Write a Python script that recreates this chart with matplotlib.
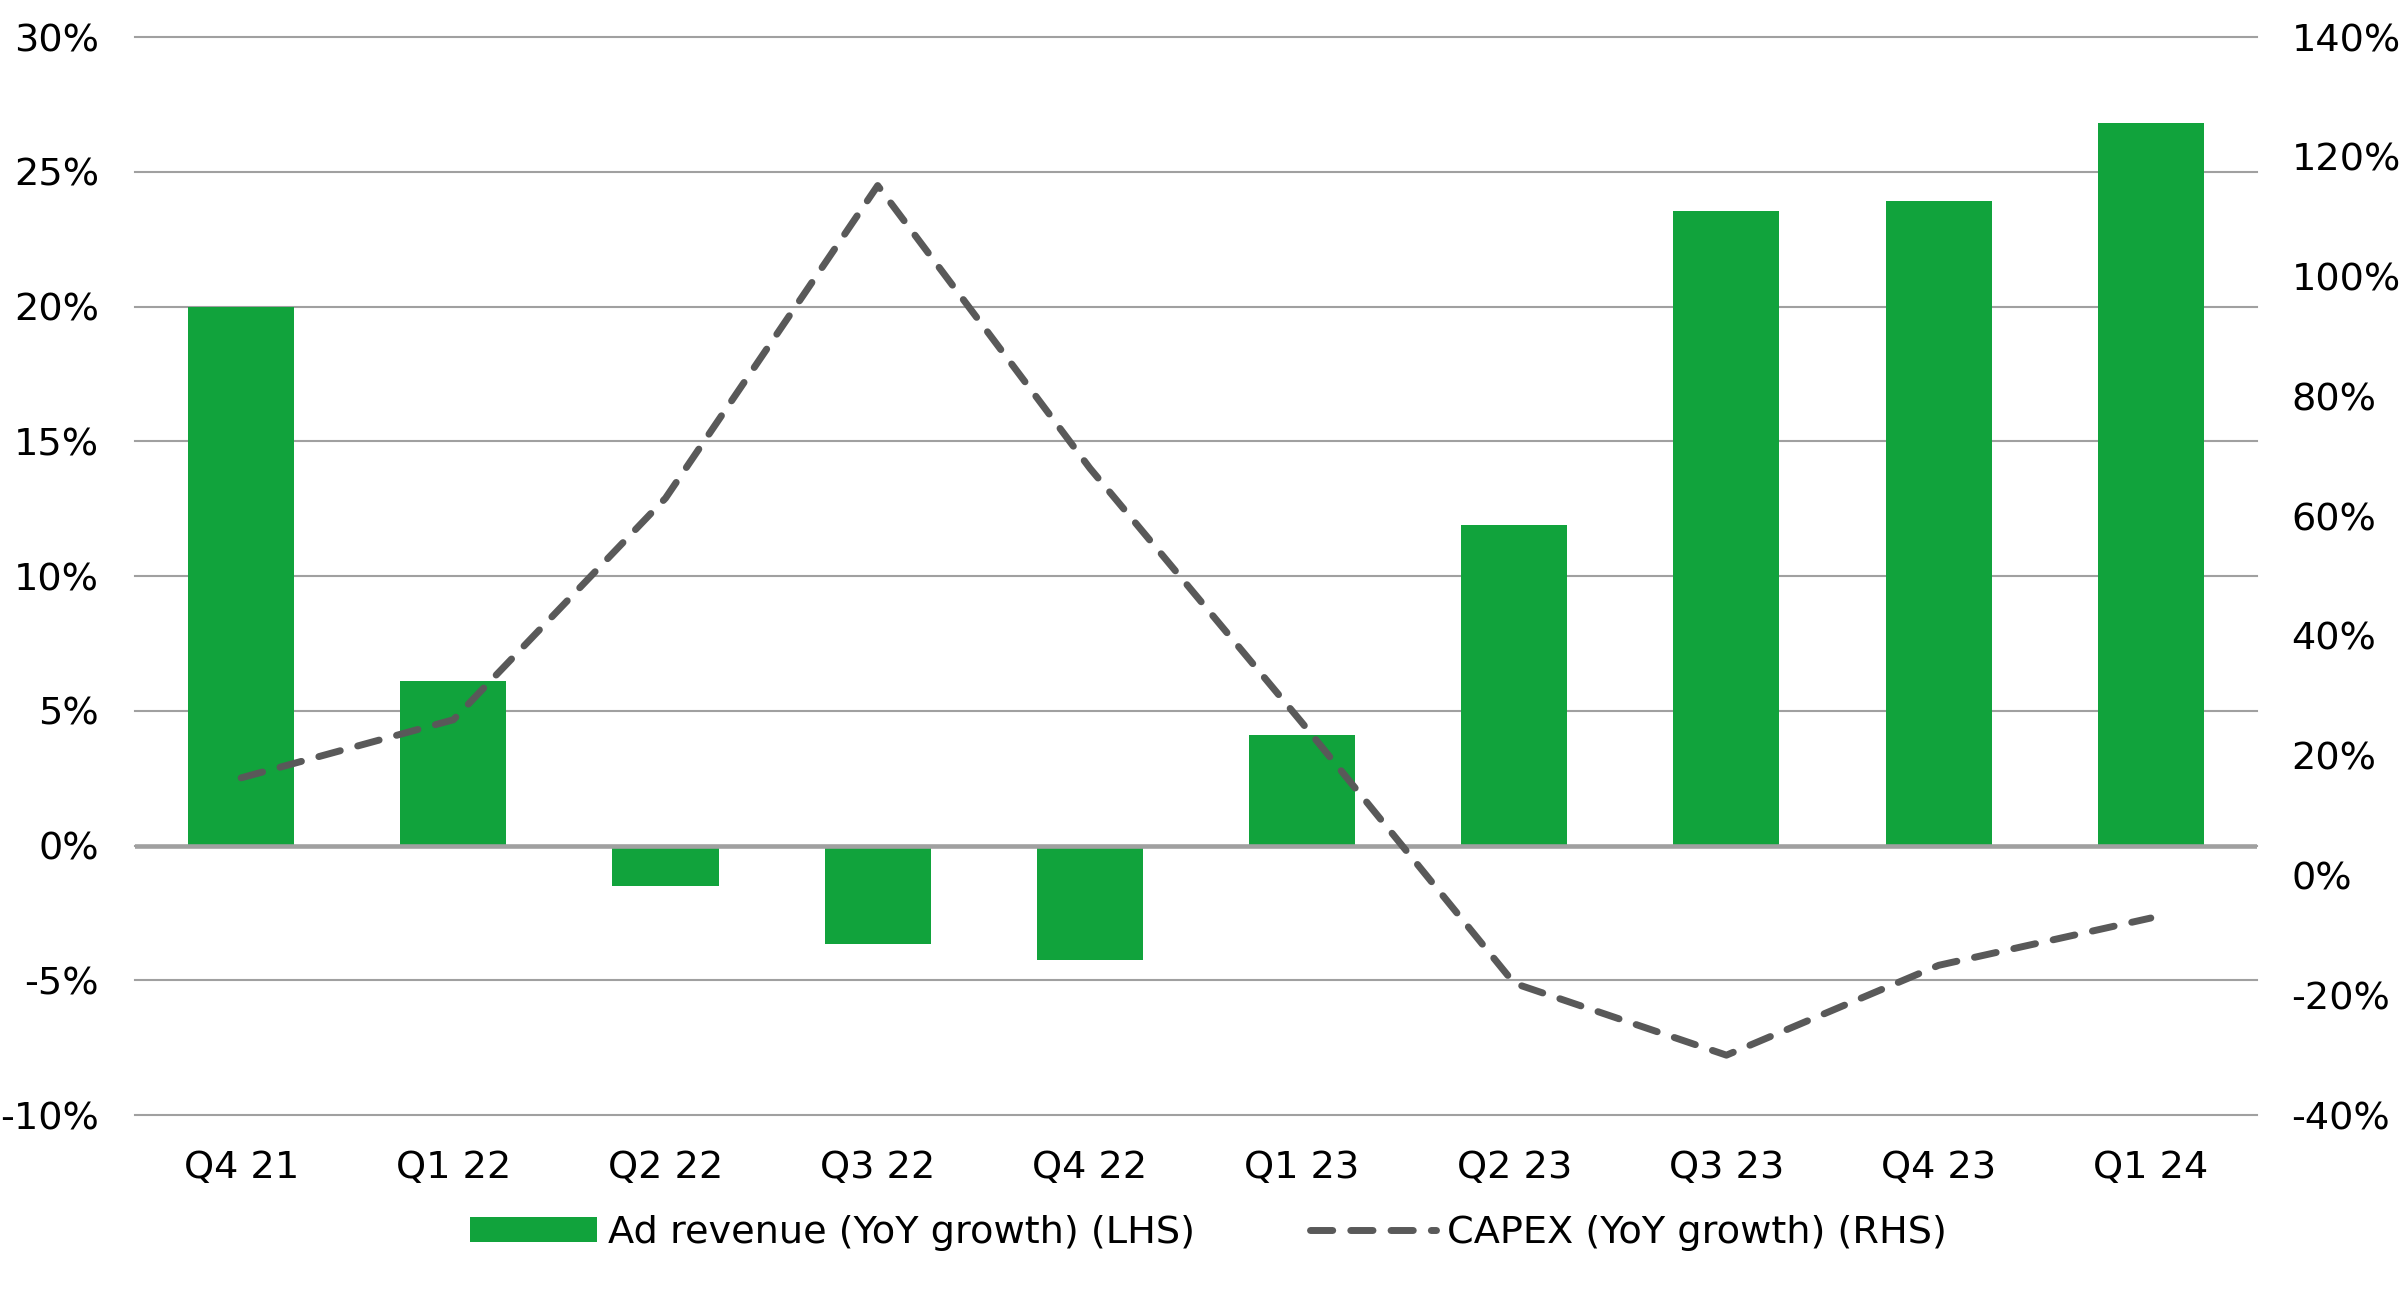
import matplotlib.pyplot as plt
from matplotlib.ticker import FuncFormatter, MultipleLocator

quarters = ["Q4 21", "Q1 22", "Q2 22", "Q3 22", "Q4 22",
            "Q1 23", "Q2 23", "Q3 23", "Q4 23", "Q1 24"]
ad_revenue_growth = [20.0, 6.1, -1.5, -3.65, -4.25, 4.1, 11.9, 23.55, 23.9, 26.8]
capex_growth = [16.3, 26.0, 63.0, 115.2, 68.0, 25.5, -18.0, -30.0, -15.0, -7.1]

GREEN = "#11a33c"
DARK = "#595959"
GRID = "#a0a0a0"
FS = 27.5

plt.rcParams["font.family"] = ["DejaVu Sans"]

fig = plt.figure(figsize=(24.03, 12.99), dpi=100)
ax = fig.add_axes([0.0562, 0.1416, 0.8830, 0.8299])
ax2 = ax.twinx()

x = range(len(quarters))
ax.bar(x, ad_revenue_growth, width=0.5, color=GREEN, zorder=2,
       label="Ad revenue (YoY growth) (LHS)")
ax.axhline(0, color=GRID, lw=3.3, zorder=3)

ax2.plot(x, capex_growth, color=DARK, lw=5, linestyle=(0, (3.2, 2.6)),
         dash_capstyle="round", solid_capstyle="round", zorder=4,
         label="CAPEX (YoY growth) (RHS)")

ax.set_xlim(-0.5, len(quarters) - 0.5)
ax.set_ylim(-10, 30)
ax2.set_ylim(-40, 140)
ax.yaxis.set_major_locator(MultipleLocator(5))
ax2.yaxis.set_major_locator(MultipleLocator(20))
pct = FuncFormatter(lambda v, _: f"{v:.0f}%")
ax.yaxis.set_major_formatter(pct)
ax2.yaxis.set_major_formatter(pct)

ax.set_xticks(list(x))
ax.set_xticklabels(quarters)

ax.set_axisbelow(True)
ax.yaxis.grid(True, color=GRID, lw=1.5)
ax.xaxis.grid(False)
for gl in ax.get_ygridlines():
    gl.set_clip_on(False)

for a in (ax, ax2):
    for s in a.spines.values():
        s.set_visible(False)
ax.tick_params(axis="y", length=0, labelsize=FS, pad=26, colors="black")
ax.tick_params(axis="x", length=0, labelsize=FS, pad=25, colors="black")
ax2.tick_params(axis="y", length=0, labelsize=FS, pad=25, colors="black")

h1, l1 = ax.get_legend_handles_labels()
h2, l2 = ax2.get_legend_handles_labels()
fig.legend(h1 + h2, l1 + l2, loc="center", bbox_to_anchor=(0.503, 0.051),
           ncol=2, frameon=False, fontsize=FS, handlelength=3.3,
           handleheight=0.65, handletextpad=0.3, columnspacing=3.0)

fig.savefig("out.png", dpi=100)
